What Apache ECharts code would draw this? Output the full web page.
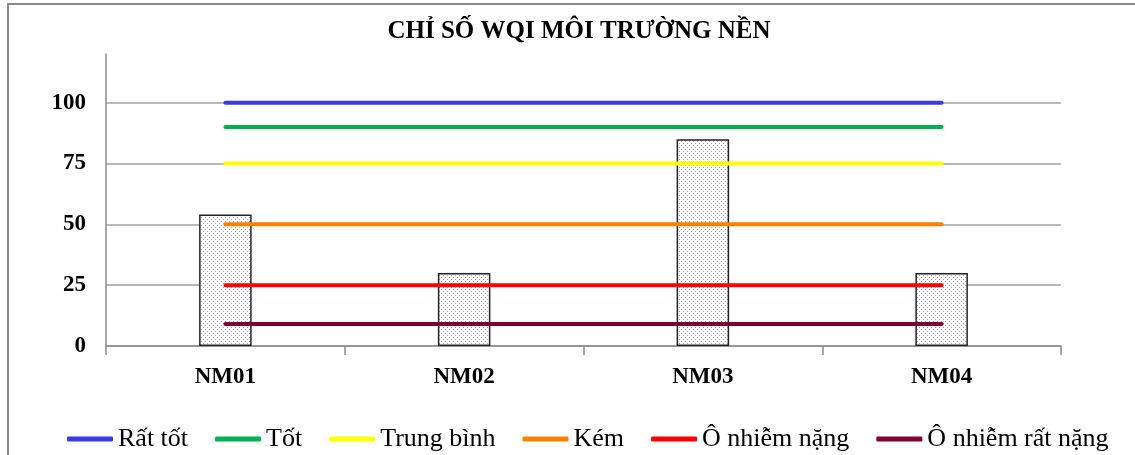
<!DOCTYPE html>
<html>
<head>
<meta charset="utf-8">
<script src="https://cdn.jsdelivr.net/npm/echarts@6/dist/echarts.min.js"></script>
<style>
  html, body { margin: 0; padding: 0; background: #fff; }
  #chart { width: 1135px; height: 455px; }
</style>
</head>
<body>
<div id="chart"></div>
<script>
// du lieu
var stations = ['NM01', 'NM02', 'NM03', 'NM04'];
var wqiValues = [54, 30, 85, 30];
var levelNames = ['Rất tốt', 'Tốt', 'Trung bình', 'Kém', 'Ô nhiễm nặng', 'Ô nhiễm rất nặng'];
var levelValues = [100, 90, 75, 50, 25, 9];
var levelColors = ['#3a3ae6', '#00b050', '#ffff00', '#ff8000', '#ff0000', '#800030'];
var yTicks = [0, 25, 50, 75, 100];
var yMax = 120;

var FONT = 'Liberation Serif';

// nen cham cho cot
function makeDots() {
    var c = document.createElement('canvas');
    c.width = 4;
    c.height = 4;
    var ctx = c.getContext('2d');
    ctx.fillStyle = '#ffffff';
    ctx.fillRect(0, 0, 4, 4);
    ctx.fillStyle = '#a09cbc';
    ctx.fillRect(1, 1, 1, 1);
    ctx.fillRect(3, 3, 1, 1);
    return c;
}

var chart = echarts.init(document.getElementById('chart'));

var series = [{
    name: 'WQI',
    type: 'bar',
    barWidth: '22%',
    z: 1,
    itemStyle: {
        color: { image: makeDots(), repeat: 'repeat' },
        borderColor: '#222',
        borderWidth: 1.5
    },
    data: wqiValues
}];

for (var i = 0; i < levelNames.length; i++) {
    var row = [];
    for (var j = 0; j < stations.length; j++) {
        row.push(levelValues[i]);
    }
    series.push({
        name: levelNames[i],
        type: 'line',
        symbol: 'none',
        z: 3,
        color: levelColors[i],
        lineStyle: { width: 4, color: levelColors[i], cap: 'round' },
        data: row
    });
}

var option = {
    backgroundColor: '#fff',
    animation: false,
    textStyle: { fontFamily: FONT },
    title: {
        text: 'CHỈ SỐ WQI MÔI TRƯỜNG NỀN',
        left: 574,
        textAlign: 'center',
        top: 14,
        textStyle: {
            fontFamily: FONT,
            fontWeight: 'bold',
            fontSize: 25,
            color: '#000'
        }
    },
    graphic: [{
        type: 'rect',
        shape: { x: 8, y: 4, width: 1140, height: 460 },
        style: { fill: 'none', stroke: '#8c8c8c', lineWidth: 2 },
        silent: true
    }],
    legend: {
        data: levelNames,
        top: 421,
        left: 62,
        icon: 'roundRect',
        itemWidth: 46,
        itemHeight: 5,
        itemGap: 27,
        formatter: '{t|{name}}',
        textStyle: {
            fontFamily: FONT,
            fontSize: 26,
            color: '#000',
            rich: {
                t: { fontFamily: FONT, fontSize: 26, color: '#000' }
            }
        }
    },
    grid: {
        left: 106,
        right: 74,
        top: 54,
        bottom: 109
    },
    xAxis: {
        type: 'category',
        data: stations,
        axisLine: { lineStyle: { color: '#8c8c8c', width: 1.5 } },
        axisTick: { show: true, length: 9, lineStyle: { color: '#8c8c8c', width: 1.5 } },
        axisLabel: {
            margin: 20,
            fontFamily: FONT,
            fontWeight: 'bold',
            fontSize: 23,
            color: '#000'
        }
    },
    yAxis: {
        type: 'value',
        min: yTicks[0],
        max: yMax,
        interval: yTicks[1] - yTicks[0],
        axisLine: { show: true, lineStyle: { color: '#8c8c8c', width: 1.5 } },
        axisTick: { show: false },
        axisLabel: {
            showMaxLabel: false,
            margin: 20,
            fontFamily: FONT,
            fontWeight: 'bold',
            fontSize: 23,
            color: '#000'
        },
        splitLine: {
            show: true,
            showMaxLine: false,
            lineStyle: { color: '#a0a0a0', width: 1.5 }
        }
    },
    series: series
};

chart.setOption(option);
</script>
</body>
</html>
